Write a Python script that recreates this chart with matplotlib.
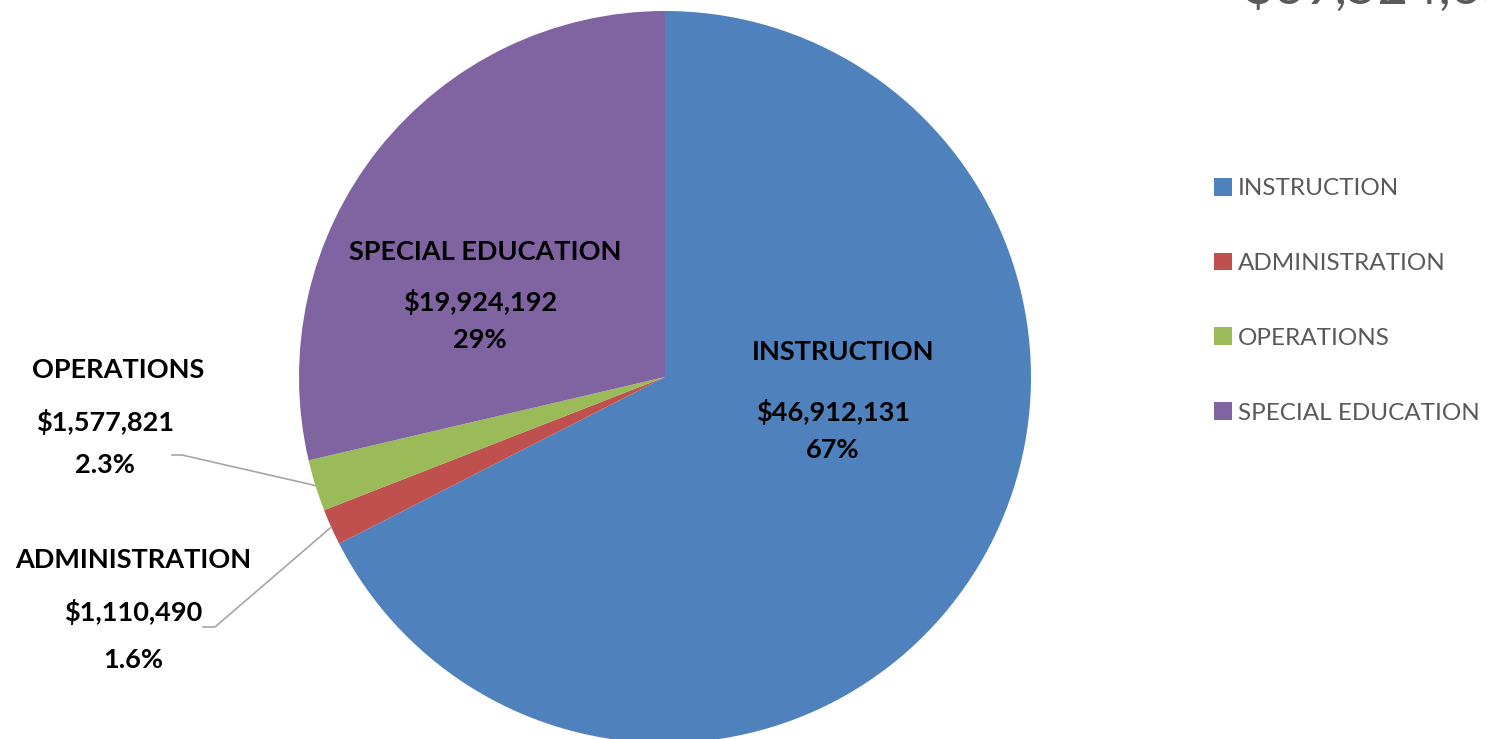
import numpy as np
import matplotlib
matplotlib.use("Agg")
import matplotlib.pyplot as plt

categories = ["INSTRUCTION", "ADMINISTRATION", "OPERATIONS", "SPECIAL EDUCATION"]
amounts = [46912131, 1110490, 1577821, 19924192]
pct_labels = ["67%", "1.6%", "2.3%", "29%"]
colors = ["#4F81BD", "#C0504D", "#9BBB59", "#8064A2"]

plt.rcParams['font.family'] = ['Lato', 'DejaVu Sans']

W, H = 1487, 739
fig = plt.figure(figsize=(W / 100, H / 100), dpi=100)

# pie centre / radius in pixels
cx, cy, r = 665, 377, 366
ax = fig.add_axes([(cx - r) / W, (H - cy - r) / H, 2 * r / W, 2 * r / H])
wedges, _ = ax.pie(amounts, colors=colors, startangle=90, counterclock=False,
                   radius=1.0, wedgeprops=dict(linewidth=0))
ax.set_xlim(-1, 1)
ax.set_ylim(-1, 1)
ax.set_aspect('equal')
ax.axis('off')

def fx(px):
    return px / W

def fy(py):
    return 1 - py / H

lab = dict(fontsize=19.5, fontweight='bold', color='black', ha='center', va='center')

# label positions (pixels) : title, value, pct
label_pos = {
    0: ((843, 352), (833, 412), (833, 450)),
    1: ((133, 560), (133, 612), (133, 660)),
    2: ((118, 370), (105, 422), (105, 465)),
    3: ((485, 252), (480, 302), (480, 340)),
}
for i, (t, v, p) in label_pos.items():
    fig.text(fx(t[0]), fy(t[1]), categories[i], **lab)
    fig.text(fx(v[0]), fy(v[1]), "${:,}".format(amounts[i]), **lab)
    fig.text(fx(p[0]), fy(p[1]), pct_labels[i], **lab)

# leader lines for the small slices
def px2data(px, py):
    return (px - cx) / r, (cy - py) / r

leaders = {1: ((203, 627), (215, 627)), 2: ((172, 455), (182, 455))}
for i, (start, elbow) in leaders.items():
    w = wedges[i]
    mid = np.deg2rad((w.theta1 + w.theta2) / 2)
    tip = (np.cos(mid), np.sin(mid))
    s = px2data(*start)
    e = px2data(*elbow)
    ax.plot([s[0], e[0], tip[0]], [s[1], e[1], tip[1]], color='#A6A6A6',
            lw=1.2, clip_on=False)

leg = fig.legend(wedges, categories, loc='upper left',
                 bbox_to_anchor=(fx(1204), fy(168)), frameon=False,
                 fontsize=17.5, labelspacing=2.2, handlelength=0.75,
                 handleheight=0.75, handletextpad=0.25, borderaxespad=0)
for t in leg.get_texts():
    t.set_color('#595959')

# total, partially cut off at the top
fig.text(fx(1243), fy(4), "${:,}".format(sum(amounts)), fontsize=38,
         color='#595959', ha='left', va='baseline')

fig.savefig("out.png", dpi=100)
